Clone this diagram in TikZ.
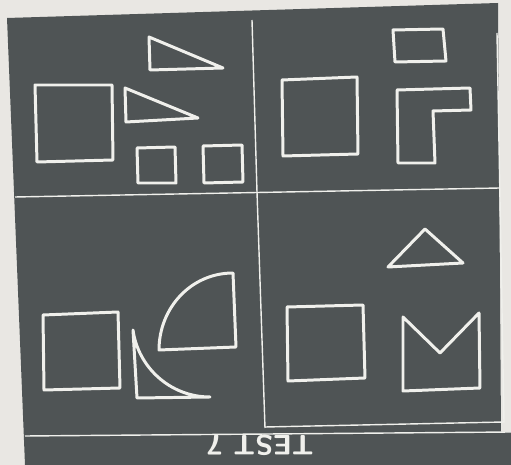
\documentclass[tikz,border=0pt]{standalone}
\usepackage{xcolor}
\usepackage{tikz}

\definecolor{paper}{RGB}{233,231,227}
\definecolor{board}{RGB}{79,84,85}
\definecolor{chalk}{RGB}{240,240,236}

\begin{document}
\begin{tikzpicture}[
    x=0.02cm, y=-0.02cm,
    chalkline/.style={draw=chalk, line width=1.7pt, line join=round},
    divider/.style={draw=chalk, line width=0.8pt},
    caption/.style={text=chalk, font=\sffamily\bfseries\fontsize{16}{16}\selectfont, inner sep=0pt},
]

% Paper and board
\fill[paper] (0,0) rectangle (511,465);
\useasboundingbox (0,0) rectangle (511,465);
\fill[board] (7,18) -- (498,3) -- (501,432) -- (511,432) -- (511,465) -- (25,465) -- cycle;

% Dividers and frame
\draw[divider] (252,20) -- (257,192) -- (265,428);
\draw[divider] (15,197) -- (500,188);
\draw[divider] (497,33) -- (504,422) -- (265,427);
\draw[divider] (25,436) -- (511,432);

% Top left
\draw[chalkline] (35,85) -- (112,85) -- (113,160) -- (37,162) -- cycle;
\draw[chalkline] (149,37) -- (150,70) -- (223,68) -- cycle;
\draw[chalkline] (125,88) -- (126,122) -- (198,118) -- cycle;
\draw[chalkline] (137,148) -- (175,147) -- (176,183) -- (138,183) -- cycle;
\draw[chalkline] (203,146) -- (242,145) -- (243,182) -- (204,183) -- cycle;

% Top right
\draw[chalkline] (282,80) -- (357,77) -- (358,154) -- (283,156) -- cycle;
\draw[chalkline] (393,30) -- (443,29) -- (446,61) -- (395,62) -- cycle;
\draw[chalkline] (397,90) -- (470,88) -- (471,110) -- (433,111) -- (435,163) -- (398,163) -- cycle;

% Bottom left
\draw[chalkline] (43,315) -- (118,312) -- (120,388) -- (44,390) -- cycle;
\draw[chalkline] (159,350) .. controls (159,308) and (191,273) .. (233,273) -- (236,347) -- cycle;
\draw[chalkline] (133,330) -- (137,398) -- (210,397) .. controls (170,397) and (138,367) .. cycle;

% Bottom right
\draw[chalkline] (425,229) -- (388,267) -- (463,263) -- cycle;
\draw[chalkline] (287,307) -- (363,305) -- (365,378) -- (288,381) -- cycle;
\draw[chalkline] (403,317) -- (440,353) -- (479,313) -- (480,388) -- (403,391) -- cycle;

% Caption (upside down)
\node[caption, rotate=180, xscale=1.05] (title) at (260,445) {TEST 7};

\end{tikzpicture}
\end{document}
